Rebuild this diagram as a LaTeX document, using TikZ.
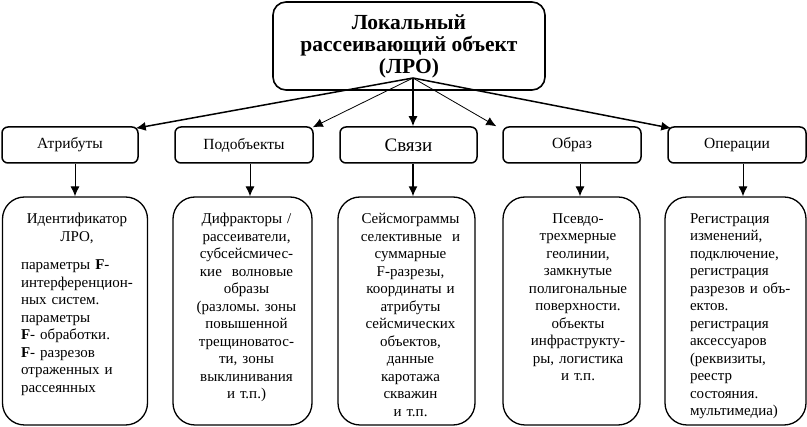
\documentclass[tikz,border=0pt]{standalone}
\usepackage{fontspec}
\setmainfont{Liberation Serif}
\frenchspacing
\usetikzlibrary{arrows.meta,positioning}
\tikzset{
  mainbox/.style={draw,line width=1.6pt,rounded corners=13pt,minimum width=272pt,minimum height=88pt,inner sep=0pt,align=center,font=\bfseries\fontsize{21.5}{22}\selectfont},
  catbox/.style={draw,line width=1.5pt,rounded corners=6pt,minimum height=36pt,inner sep=0pt,font=\fontsize{15.5}{17}\selectfont},
  infobox/.style={draw,line width=1.3pt,rounded corners=22pt,minimum height=228pt,inner sep=0pt},
  infotext/.style={anchor=north,inner sep=0pt,text width=126pt,align=center,font=\fontsize{15}{17.5}\selectfont},
  arr/.style={-{Latex[length=10pt,width=9pt]},line width=1.5pt},
  thinarr/.style={-{Latex[length=10pt,width=9pt]},line width=0.8pt}
}
\begin{document}
\begin{tikzpicture}[x=1pt,y=-1pt]
\useasboundingbox (0,0) rectangle (807,427);
% root
\node[mainbox] (lro) at (409,46) {Локальный\\рассеивающий объект\\(ЛРО)};
\coordinate (hub) at (413,78);
% categories
\node[catbox,minimum width=136pt] (attr) at (70,145) {Атрибуты};
\node[catbox,minimum width=138pt] (sub) at (244,145) {Подобъекты};
\node[catbox,minimum width=137pt,font=\fontsize{19}{20}\selectfont] (link) at (408.5,145) {Связи};
\node[catbox,minimum width=138pt] (image) at (572,145) {Образ};
\node[catbox,minimum width=138pt] (oper) at (737,145) {Операции};
% details
\node[infobox,minimum width=145pt] (b1) at (75,311) {};
\node[infobox,minimum width=139pt] (b2) at (242.5,311) {};
\node[infobox,minimum width=137pt] (b3) at (406.5,311) {};
\node[infobox,minimum width=137pt] (b4) at (571.5,311) {};
\node[infobox,minimum width=141pt] (b5) at (735.5,311) {};
\node[infotext,text width=112pt,align=left] (t1) at ([xshift=2pt,yshift=-17pt]b1.north) {{\centering Идентификатор\\ЛРО,\par}\vspace{11pt}
параметры \textbf{F}-\\интерференцион-\\ных систем.\\параметры\\\textbf{F}- обработки.\\\textbf{F}- разрезов\\отраженных и\\рассеянных};
\node[infotext] (t2) at ([xshift=4pt,yshift=-17pt]b2.north) {Дифракторы /\\рассеиватели,\\субсейсмичес-\\кие~~волновые\\образы\\(разломы. зоны\\повышенной\\трещиноватос-\\ти, зоны\\выклинивания\\и т.п.)};
\node[infotext] (t3) at ([xshift=4pt,yshift=-17pt]b3.north) {Сейсмограммы\\селективные~~и\\суммарные\\F-разрезы,\\координаты и\\атрибуты\\сейсмических\\объектов,\\данные\\каротажа\\скважин\\и т.п.};
\node[infotext] (t4) at ([xshift=6.5pt,yshift=-17pt]b4.north) {Псевдо-\\трехмерные\\геолинии,\\замкнутые\\полигональные\\поверхности.\\объекты\\инфраструкту-\\ры, логистика\\и т.п.};
\node[infotext,text width=112pt,align=left] (t5) at ([xshift=10.5pt,yshift=-17pt]b5.north) {Регистрация\\изменений,\\подключение,\\регистрация\\разрезов и объ-\\ектов.\\регистрация\\аксессуаров\\(реквизиты,\\реестр\\состояния.\\мультимедиа)};
% arrows from root
\draw[arr] (hub) -- ([xshift=-3pt,yshift=-2pt]attr.north east);
\draw[thinarr] (hub) -- ([xshift=-1pt,yshift=-1pt]sub.north east);
\draw[arr] (hub) -- (hub |- link.north);
\draw[thinarr] (hub) -- ([xshift=-6pt]image.north west);
\draw[arr] (hub) -- ([xshift=4pt,yshift=-2pt]oper.north west);
% arrows down
\draw[thinarr,line width=1pt] ([xshift=5pt]attr.south) -- ([xshift=5pt]attr.south |- b1.north);
\draw[thinarr,line width=1pt] ([xshift=6pt]sub.south) -- ([xshift=6pt]sub.south |- b2.north);
\draw[arr] ([xshift=4.5pt]link.south) -- ([xshift=4.5pt]link.south |- b3.north);
\draw[thinarr,line width=1pt] ([xshift=8pt]image.south) -- ([xshift=8pt]image.south |- b4.north);
\draw[thinarr,line width=1pt] ([xshift=6pt]oper.south) -- ([xshift=6pt]oper.south |- b5.north);
\end{tikzpicture}
\end{document}
